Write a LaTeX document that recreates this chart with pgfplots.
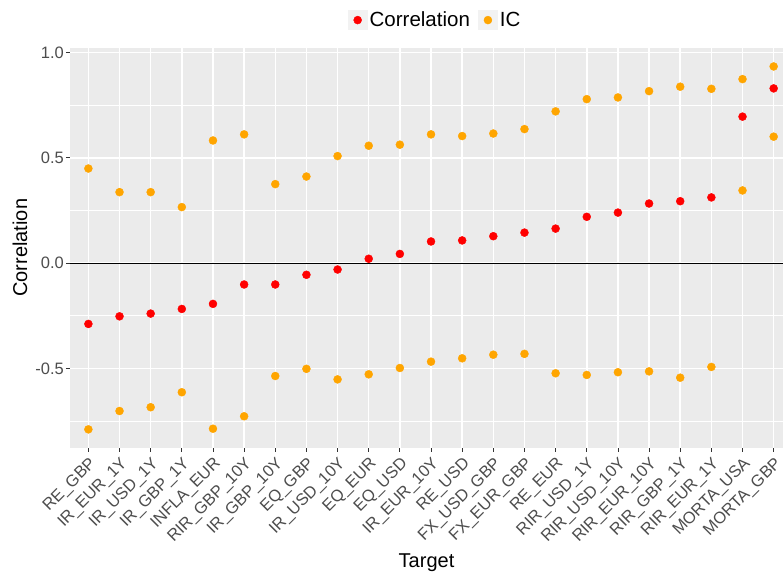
\documentclass[border=0pt]{standalone}
\usepackage{pgfplots}
\pgfplotsset{compat=1.18}
\usepackage{fontspec}
\setmainfont{Liberation Sans}
\definecolor{panelbg}{HTML}{EBEBEB}
\definecolor{ticktext}{HTML}{4D4D4D}
\definecolor{keybg}{HTML}{F2F2F2}
\definecolor{ggorange}{HTML}{FFA500}
\definecolor{ggred}{HTML}{FF0000}
\begin{document}
\begin{tikzpicture}
\path[use as bounding box] (-70pt,-126.7pt) rectangle (713pt,447.7pt);
\begin{axis}[
  at={(0pt,0pt)}, anchor=south west,
  scale only axis, width=713pt, height=400pt,
  xmin=-0.59, xmax=22.3,
  ymin=-0.875, ymax=1.022,
  axis background/.style={fill=panelbg},
  axis x line*=bottom, axis y line*=left,
  axis line style={draw=none},
  xtick={0,...,22},
  xticklabels={RE\_GBP,IR\_EUR\_1Y,IR\_USD\_1Y,IR\_GBP\_1Y,INFLA\_EUR,RIR\_GBP\_10Y,IR\_GBP\_10Y,EQ\_GBP,IR\_USD\_10Y,EQ\_EUR,EQ\_USD,IR\_EUR\_10Y,RE\_USD,FX\_USD\_GBP,FX\_EUR\_GBP,RE\_EUR,RIR\_USD\_1Y,RIR\_USD\_10Y,RIR\_EUR\_10Y,RIR\_GBP\_1Y,RIR\_EUR\_1Y,MORTA\_USA,MORTA\_GBP},
  ytick={-0.5,0,0.5,1},
  minor ytick={-0.75,-0.25,0.25,0.75},
  yticklabel style={/pgf/number format/fixed,/pgf/number format/fixed zerofill,/pgf/number format/precision=1,/pgf/number format/assume math mode=true, inner sep=2pt},
  ticklabel style={font=\fontsize{16.5}{18}\selectfont, text=ticktext},
  x tick label style={rotate=45, anchor=north east, inner sep=1pt, xshift=-2pt, yshift=-2pt},
  grid=both,
  major grid style={white, line width=1.5pt},
  minor grid style={white, line width=0.9pt},
  tick align=outside,
  major tick length=4pt,
  minor tick length=0pt,
  tick style={color=black!80, line width=0.8pt},
  xlabel={Target},
  ylabel={Correlation},
  label style={font=\fontsize{20}{24}\selectfont, text=black},
  x label style={at={(axis description cs:0.5,-0.299)}, anchor=base},
  y label style={at={(axis description cs:-0.0701,0.5)}, anchor=center},
  legend style={at={(axis description cs:0.512,1.069)}, anchor=center, draw=none, fill=none,
    font=\fontsize{20.5}{24}\selectfont, legend columns=2,
    /tikz/every even column/.append style={column sep=6pt}},
  legend cell align=left,
  legend image code/.code={\fill[keybg] (0pt,-10pt) rectangle (20pt,10pt);
    \draw[mark repeat=1,mark phase=1,#1] plot coordinates {(10pt,0pt)};},
]
\addplot[black, line width=0.8pt, forget plot] coordinates {(-0.59,0) (22.3,0)};
\addplot[only marks, mark=*, mark size=4pt, ggred, draw=none, fill=ggred] coordinates {
(0,-0.288) (1,-0.252) (2,-0.239) (3,-0.217) (4,-0.193) (5,-0.101) (6,-0.101) (7,-0.055)
(8,-0.030) (9,0.021) (10,0.044) (11,0.103) (12,0.108) (13,0.128) (14,0.145) (15,0.164)
(16,0.220) (17,0.240) (18,0.283) (19,0.294) (20,0.312) (21,0.695) (22,0.829)};
\addlegendentry{Correlation}
\addplot[only marks, mark=*, mark size=4pt, ggorange, draw=none, fill=ggorange] coordinates {
(0,0.449) (1,0.337) (2,0.337) (3,0.266) (4,0.582) (5,0.611) (6,0.375) (7,0.411)
(8,0.508) (9,0.557) (10,0.562) (11,0.611) (12,0.603) (13,0.615) (14,0.636) (15,0.720)
(16,0.778) (17,0.786) (18,0.816) (19,0.837) (20,0.827) (21,0.873) (22,0.933)};
\addlegendentry{IC}
\addplot[only marks, mark=*, mark size=4pt, ggorange, draw=none, fill=ggorange, forget plot] coordinates {
(0,-0.788) (1,-0.701) (2,-0.683) (3,-0.612) (4,-0.785) (5,-0.726) (6,-0.535) (7,-0.501)
(8,-0.551) (9,-0.527) (10,-0.497) (11,-0.467) (12,-0.451) (13,-0.434) (14,-0.430) (15,-0.522)
(16,-0.530) (17,-0.517) (18,-0.513) (19,-0.543) (20,-0.492) (21,0.345) (22,0.600)};
\end{axis}
\end{tikzpicture}
\end{document}
